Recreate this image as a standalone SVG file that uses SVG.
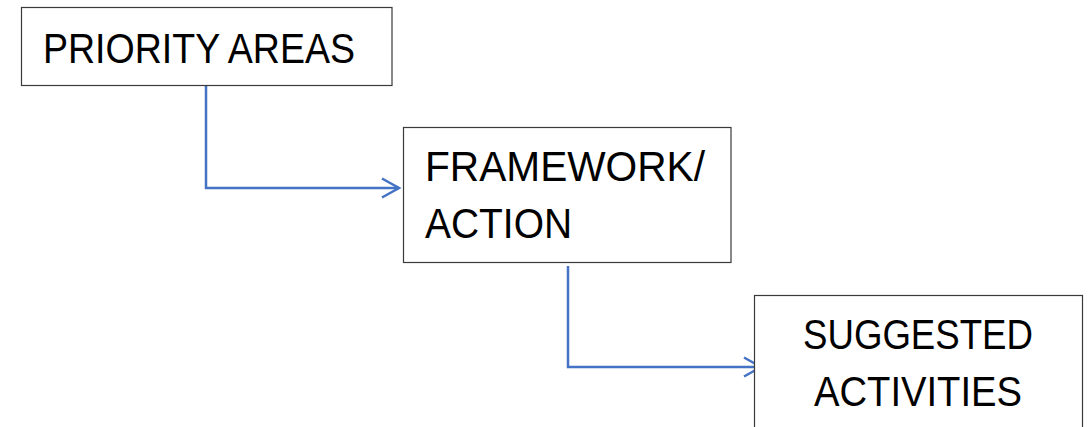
<svg xmlns="http://www.w3.org/2000/svg" width="1089" height="427" viewBox="0 0 1089 427">
<style>
.box{fill:#ffffff;stroke:#3a3a3a;stroke-width:1.2}
.lbl{font-family:"Liberation Sans",Arial,sans-serif;font-size:42px;fill:#000000}
.conn{fill:none;stroke:#4472C4;stroke-width:2.5}
</style>
<defs>
<marker id="arr" markerUnits="userSpaceOnUse" markerWidth="24" markerHeight="24" viewBox="-20 -12 24 24" refX="0" refY="0" orient="auto">
<path d="M-17,-9.5 L0,0 L-17,9.5" fill="none" stroke="#4472C4" stroke-width="2.5"/>
</marker>
</defs>
<rect width="1089" height="427" fill="#ffffff"/>
<g id="connectors">
<path class="conn" d="M206,86 V188 H399" marker-end="url(#arr)"/>
<path class="conn" d="M568,266 V367 H761" marker-end="url(#arr)"/>
</g>
<g id="priority-areas">
<rect class="box" x="21.5" y="7.5" width="370.5" height="78"/>
<text class="lbl" x="43" y="63" textLength="312" lengthAdjust="spacingAndGlyphs">PRIORITY AREAS</text>
</g>
<g id="framework-action">
<rect class="box" x="403.5" y="127.5" width="327.5" height="135"/>
<text class="lbl" x="425" y="181" textLength="280" lengthAdjust="spacingAndGlyphs">FRAMEWORK/</text>
<text class="lbl" x="425" y="238" textLength="147" lengthAdjust="spacingAndGlyphs">ACTION</text>
</g>
<g id="suggested-activities">
<rect class="box" x="754.5" y="295.5" width="328" height="140"/>
<text class="lbl" x="803" y="349" textLength="230" lengthAdjust="spacingAndGlyphs">SUGGESTED</text>
<text class="lbl" x="814" y="406" textLength="208" lengthAdjust="spacingAndGlyphs">ACTIVITIES</text>
</g>
</svg>
